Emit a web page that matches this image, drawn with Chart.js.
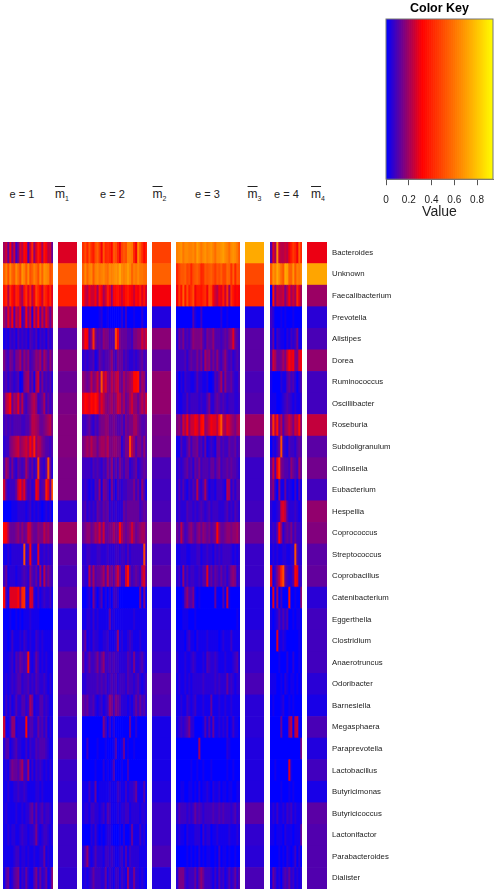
<!DOCTYPE html>
<html>
<head>
<meta charset="utf-8">
<title>Genus heatmap</title>
<script src="https://cdn.jsdelivr.net/npm/chart.js@4"></script>
<style>
  html, body { margin: 0; padding: 0; background: #fff; }
  body { width: 496px; height: 892px; position: relative; overflow: hidden; font-family: "Liberation Sans", sans-serif; filter: blur(0.35px); }
  canvas { position: absolute; display: block; }
  #e1, #e2, #e3, #e4 { filter: blur(0.5px); }
  .head { position: absolute; top: 187px; font-size: 11px; line-height: 14px; color: #222; transform: translateX(-50%); white-space: nowrap; }
  .head .bar { text-decoration: overline; font-size: 12px; }
  .head sub { font-size: 7px; line-height: 0; }
</style>
</head>
<body>
<canvas id="e1" width="50" height="647" style="left:3px;top:242px"></canvas>
<canvas id="m1" width="19" height="647" style="left:58px;top:242px"></canvas>
<canvas id="e2" width="65" height="647" style="left:82px;top:242px"></canvas>
<canvas id="m2" width="19" height="647" style="left:152px;top:242px"></canvas>
<canvas id="e3" width="64" height="647" style="left:176px;top:242px"></canvas>
<canvas id="m3" width="19" height="647" style="left:245px;top:242px"></canvas>
<canvas id="e4" width="32" height="647" style="left:270px;top:242px"></canvas>
<canvas id="m4" width="189" height="647" style="left:307px;top:242px"></canvas>
<canvas id="key" width="156" height="221" style="left:340px;top:0"></canvas>

<div class="head" style="left:22px">e = 1</div>
<div class="head" style="left:62px"><span class="bar">m</span><sub>1</sub></div>
<div class="head" style="left:112.5px">e = 2</div>
<div class="head" style="left:159.5px"><span class="bar">m</span><sub>2</sub></div>
<div class="head" style="left:207.5px">e = 3</div>
<div class="head" style="left:254.5px"><span class="bar">m</span><sub>3</sub></div>
<div class="head" style="left:286.5px">e = 4</div>
<div class="head" style="left:318px"><span class="bar">m</span><sub>4</sub></div>

<script>
const rowNames = ['Bacteroides', 'Unknown', 'Faecalibacterium', 'Prevotella', 'Alistipes', 'Dorea',
  'Ruminococcus', 'Oscillibacter', 'Roseburia', 'Subdoligranulum', 'Collinsella', 'Eubacterium',
  'Hespellia', 'Coprococcus', 'Streptococcus', 'Coprobacillus', 'Catenibacterium', 'Eggerthella',
  'Clostridium', 'Anaerotruncus', 'Odoribacter', 'Barnesiella', 'Megasphaera', 'Paraprevotella',
  'Lactobacillus', 'Butyricimonas', 'Butyricicoccus', 'Lactonifactor', 'Parabacteroides', 'Dialister'];

const keyMax = 0.94;
const keyTicks = [0, 0.2, 0.4, 0.6, 0.8];

// per sample values, one base-36 char per column, 1 unit = 0.025
const valueUnit = 0.025;

const e1Rows = [
  '8a5c6 a36b9 dc4ag 7bfc8 ec9a5',
  'mpkqm lqnkr plqkm pnkqm rqpkm',
  'eg9hd bgfa8 ehbg9 cjgda hfcgb',
  '86b7c 4a8c3 5c6a2 b7d5a 6b859',
  '12132 31423 23143 24132 31423',
  '64365 36684 75734 57684 86475',
  '34243 23401 67835 18a36 34342',
  '59ad5 87b59 43568 97345 83534',
  '34343 44443 34469 98755 67896',
  '23367 89a78 9a8c9 f7986 54434',
  '48636 32543 48535 24i43 25k52',
  'a4233 35ac8 b5342 3ca34 5fb5k',
  '00001 11222 21231 21210 12120',
  'dc855 56757 56a96 55766 97866',
  '11212 22222 k23c3 22b22 32323',
  '35122 21223 43274 35282 94643',
  'd31bb bbd7g h22ba 21312 32231',
  '00010 01010 11121 11100 00000',
  '11013 11121 32121 13212 11112',
  '11123 14354 34e21 25312 12111',
  '12123 23442 33423 24322 32121',
  '13131 24224 42386 12244 23211',
  'a1137 71222 2d244 22534 24121',
  '24412 34221 13132 24344 43211',
  '12146 55468 33813 13232 12121',
  '11211 22322 32111 12212 11111',
  '12111 12112 12245 25234 23321',
  '11212 21123 22122 36212 33212',
  '11111 23312 21211 21122 51211',
  '14512 45613 25211 46252 35127'
];

const e2Rows = [
  'hkgl hfkm iclg hgdl kgcj lkpp ogcq lhdg',
  'mqmp qlpq opqo nqpq rqtq pqsq mpoq oonn',
  'da9c aac8 ec8a fc7c deca cefd cadc fbea',
  '0000 0000 1200 1000 0002 0300 0100 0200',
  '9dc4 7h64 5476 6444 jc65 5544 3667 7a8a',
  '2323 3412 5434 4574 3655 3432 2323 4534',
  '7656 967a 6k9b 7697 9a65 8678 9dde 5873',
  'bdcb dcec 8b97 6786 7a96 8568 a775 797a',
  '3345 3243 5667 7556 5445 3656 6886 5445',
  '6787 9775 7887 9667 7662 466j 9746 6474',
  '3333 2434 3243 6473 5364 3552 3452 3454',
  '2321 2143 7165 4163 1432 3344 4635 2741',
  '3423 2325 4354 5232 3222 5455 5555 3454',
  '5677 5687 a6a5 5668 66d8 6567 a756 7885',
  '2233 2223 3222 3222 3323 3242 3333 33j3',
  '3229 4845 5684 9564 7a63 3ae5 3454 39b4',
  '0012 0620 2402 0203 3200 0000 0000 6060',
  '1122 1312 1111 1512 1111 1111 1211 1111',
  '3512 1322 1122 3111 2712 1123 2111 2111',
  '5235 3346 3573 3434 3322 2243 2622 3421',
  '2233 3334 3434 2343 4233 3243 3234 2123',
  '5453 3421 2312 3763 6542 2212 1353 5342',
  '0000 0000 0063 0302 0000 0005 0020 0000',
  '0030 0001 0001 0001 4001 5010 0100 0000',
  '0000 0010 0020 1014 0001 0030 0000 0000',
  '1113 1150 1111 1211 1321 1312 2351 1140',
  '1221 3322 1231 4311 1212 2331 2222 1221',
  '0000 2131 0101 2210 0010 2001 5111 3120',
  '2472 1242 2213 3232 1123 1413 2222 1111',
  '1212 3533 3225 1321 3313 2172 2622 1210'
];

const e3Rows = [
  'pqro qqpp qosq oqrp qrpn qqrs qpnq rqol',
  'gjll mjkg klmk ghlk lmki lkmj jnmh mglk',
  'ciem ekfh kcff eghc kjca 9cbf ah8h ecdc',
  '0000 0000 4100 3000 0000 0020 0100 0000',
  '2546 3435 7666 7436 5574 4434 5467 b543',
  '3333 4245 4464 6386 7464 7435 7434 2343',
  '2021 3221 1242 2112 0014 3583 7445 3224',
  '2112 2423 3332 3224 6224 5434 3233 3223',
  '675a 8c7a acb8 de78 acbb 9fl9 8ba8 7689',
  '1142 2463 5563 4251 2321 5534 3354 4534',
  '2323 4534 2546 3444 3553 5634 4545 4432',
  '2424 2132 4393 2483 1221 3332 1982 4244',
  '2322 2433 2323 4323 4233 3222 3423 2432',
  '5495 3467 5467 5765 6456 d755 6776 7786',
  '1122 2112 2233 1223 2213 2323 3332 1212',
  '2317 2423 3223 244b 3535 4353 4246 7623',
  '0001 5744 6101 0000 0005 0004 0a10 0000',
  '0001 1100 0100 0000 0000 0000 0000 0010',
  '1111 0231 1021 1112 1111 1012 1113 1111',
  '2111 2112 3211 1214 3223 2111 2111 2341',
  '1211 2121 2222 2322 2223 2322 2523 2122',
  '1121 1321 2311 1211 1511 1211 2112 1111',
  '1232 3462 2000 0141 4151 1212 1301 3110',
  '0000 0000 0008 0000 0000 0000 0210 0000',
  '0000 0001 0010 0100 0100 0000 0100 1000',
  '0011 0011 0102 0112 1021 1201 1011 0011',
  '2433 3232 3534 3233 3343 3434 3332 3423',
  '1211 0211 1222 0312 2011 2111 1121 1121',
  '0000 0101 0102 0101 1001 0301 1010 0100',
  '2666 3233 3525 7533 3213 1423 1242 3524'
];

const e4Rows = [
  '4b8q a99a 9cfi gcmg',
  'lrpt qnlt smmr lpoq',
  '0e6a 99a6 9c8a 8gb8',
  '3200 0101 0001 0000',
  '2503 2110 2132 3611',
  '4a85 5686 adbc 66bc',
  '1000 0211 4534 2024',
  '1110 0123 4321 2113',
  '7h9e 6947 8a86 a9e7',
  '0213 5k32 1433 2454',
  '5a4c h654 4375 4385',
  '5720 7115 1210 3041',
  '2112 3ab9 4222 3212',
  '2325 d724 5463 5332',
  '1212 1122 1122 k422',
  'b136 9gk5 3224 db23',
  '0b08 0300 0e00 1007',
  '1012 4242 4001 0110',
  '000b 1121 0000 0010',
  '0000 1000 2002 0010',
  '1110 0102 1011 0101',
  '0100 0120 0101 0000',
  '0000 0500 0790 9a00',
  '0000 0000 0000 0006',
  '0010 0000 0b10 0000',
  '0000 0100 0101 0000',
  '1213 1121 3231 2112',
  '1101 1102 1110 1115',
  '0000 1010 2101 3020',
  '1531 2034 3523 1212'
];

// panel means
const m1Values = [.27, .53, .39, .2, .11, .16, .13, .15, .16, .16, .15, .15, .06, .19, .11, .09, .11, .05, .07, .11, .11, .1, .07, .1, .07, .06, .1, .07, .07, .06];
const m2Values = [.47, .55, .3, .04, .17, .12, .18, .18, .15, .14, .09, .08, .09, .14, .09, .11, .03, .05, .06, .07, .1, .09, .03, .03, .03, .04, .07, .07, .09, .04];
const m3Values = [.73, .49, .41, .03, .11, .11, .09, .1, .19, .11, .07, .07, .08, .13, .07, .07, .04, .04, .06, .07, .09, .05, .05, .04, .04, .04, .11, .06, .05, .09];
const m4Values = [.29, .72, .19, .05, .09, .18, .08, .08, .24, .11, .14, .08, .18, .16, .11, .12, .05, .08, .08, .08, .05, .03, .09, .04, .08, .03, .11, .1, .1, .1];

Chart.defaults.font.family = '"Liberation Sans", sans-serif';
Chart.defaults.animation = false;

// blue -> red -> yellow, red sits at a third of the range
function valueColor(v) {
  const t = Math.min(v / keyMax, 1) * 3;
  if (t <= 1) return `rgb(${Math.round(255 * t)},0,${Math.round(255 * (1 - t))})`;
  return `rgb(255,${Math.round(255 * (t - 1) / 2)},0)`;
}

function decodeRows(rows) {
  return rows.map(r => [...r.replace(/ /g, '')].map(c => parseInt(c, 36) * valueUnit));
}

function heatChart(id, matrix, showNames) {
  const cols = matrix[0].length;
  const datasets = [];
  for (let j = 0; j < cols; j++) {
    datasets.push({
      data: rowNames.map(() => 1),
      backgroundColor: matrix.map(r => valueColor(r[j])),
      borderWidth: 0,
      barPercentage: 1,
      categoryPercentage: 1
    });
  }
  const yAxis = { stacked: true, display: false };
  if (showNames) {
    Object.assign(yAxis, {
      display: true,
      position: 'right',
      grid: { display: false, drawTicks: false },
      border: { display: false },
      afterFit: s => { s.width = 169; s.paddingTop = 0; s.paddingBottom = 0; },
      ticks: { color: '#222', font: { size: 7.8 }, padding: 5, autoSkip: false }
    });
  }
  return new Chart(document.getElementById(id), {
    type: 'bar',
    data: { labels: rowNames, datasets },
    options: {
      indexAxis: 'y',
      responsive: false,
      layout: { padding: 0 },
      plugins: { legend: { display: false }, tooltip: { enabled: false } },
      scales: {
        x: { stacked: true, min: 0, max: cols, display: false },
        y: yAxis
      }
    }
  });
}

heatChart('e1', decodeRows(e1Rows), false);
heatChart('m1', m1Values.map(v => [v]), false);
heatChart('e2', decodeRows(e2Rows), false);
heatChart('m2', m2Values.map(v => [v]), false);
heatChart('e3', decodeRows(e3Rows), false);
heatChart('m3', m3Values.map(v => [v]), false);
heatChart('e4', decodeRows(e4Rows), false);
heatChart('m4', m4Values.map(v => [v]), true);

// color key, a one row stacked ramp on a real value axis
const keySteps = 160;
const keyDatasets = [];
for (let i = 0; i < keySteps; i++) {
  keyDatasets.push({
    data: [keyMax / keySteps],
    backgroundColor: valueColor((i + 0.5) / keySteps * keyMax),
    borderWidth: 0,
    barPercentage: 1,
    categoryPercentage: 1
  });
}

const keyFrame = {
  id: 'keyFrame',
  afterDraw(chart) {
    const a = chart.chartArea, ctx = chart.ctx;
    ctx.save();
    ctx.strokeStyle = '#777';
    ctx.lineWidth = 1;
    ctx.strokeRect(a.left, a.top, a.right - a.left, a.bottom - a.top);
    ctx.restore();
  }
};

new Chart(document.getElementById('key'), {
  type: 'bar',
  data: { labels: ['Color Key'], datasets: keyDatasets },
  plugins: [keyFrame],
  options: {
    indexAxis: 'y',
    responsive: false,
    layout: { padding: { left: 46, right: 3 } },
    plugins: {
      legend: { display: false },
      tooltip: { enabled: false },
      title: {
        display: true,
        text: 'Color Key',
        color: '#000',
        font: { size: 12.5, weight: 'bold' },
        padding: { top: 1, bottom: 3 }
      }
    },
    scales: {
      x: {
        stacked: true,
        min: 0,
        max: keyMax,
        grid: { drawOnChartArea: false, color: '#555', tickLength: 6 },
        border: { color: '#777' },
        title: { display: true, text: 'Value', color: '#222', font: { size: 14 }, padding: { top: -11, bottom: 0 } },
        afterBuildTicks: s => { s.ticks = keyTicks.map(value => ({ value })); },
        ticks: { color: '#222', font: { size: 10 }, padding: 9, maxRotation: 0, autoSkip: false }
      },
      y: { stacked: true, display: false }
    }
  }
});
</script>
</body>
</html>
